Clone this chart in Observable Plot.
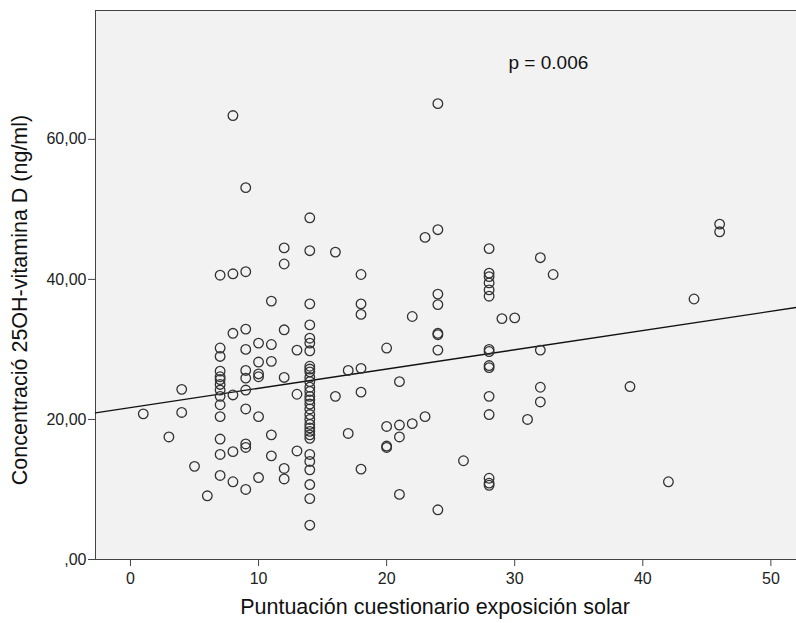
<!DOCTYPE html>
<html>
<head>
<meta charset="utf-8">
<script src="https://cdn.jsdelivr.net/npm/d3@7"></script>
<script src="https://cdn.jsdelivr.net/npm/@observablehq/plot@0.6"></script>
<style>
  html, body { margin: 0; padding: 0; background: #fff; }
  #chart svg { display: block; }
</style>
</head>
<body>
<div id="chart"></div>
<script>
// Puntuación (x) and concentration (y) grouped by score
const scores = [1, 3, 4, 5, 6, 7, 8, 9, 10, 11, 12, 13, 14, 16, 17, 18, 20, 21, 22, 23, 24, 26, 28, 29, 30, 31, 32, 33, 39, 42, 44, 46];
const concentrations = [
  [20.8],
  [17.5],
  [24.3, 21.0],
  [13.3],
  [9.1],
  [40.6, 30.2, 29.0, 26.9, 26.1, 25.7, 25.0, 24.2, 23.3, 22.1, 20.4, 17.2, 15.0, 12.0],
  [63.4, 40.8, 32.3, 23.5, 15.4, 11.1],
  [53.1, 41.1, 32.9, 30.0, 27.0, 25.9, 24.2, 21.5, 16.5, 16.0, 10.0],
  [30.9, 28.2, 26.5, 26.1, 20.4, 11.7],
  [36.9, 30.7, 28.3, 17.8, 14.8],
  [44.5, 42.2, 32.8, 26.0, 13.0, 11.5],
  [29.9, 23.6, 15.5],
  [48.8, 44.1, 36.5, 33.5, 31.6, 30.9, 29.8, 27.6, 27.2, 26.8, 26.0, 25.4, 24.6, 24.0, 23.3, 22.8, 22.2, 21.5, 20.7, 20.0, 19.3, 18.8, 18.3, 17.8, 17.3, 15.0, 14.0, 12.8, 10.7, 8.7, 4.9],
  [43.9, 23.3],
  [27.0, 18.0],
  [40.7, 36.5, 35.0, 27.3, 23.9, 12.9],
  [30.2, 19.0, 16.2, 16.0],
  [25.4, 19.2, 17.5, 9.3],
  [34.7, 19.4],
  [46.0, 20.4],
  [65.1, 47.1, 37.9, 36.4, 32.3, 32.1, 29.9, 7.1],
  [14.1],
  [44.4, 40.9, 40.4, 39.5, 38.5, 37.6, 30.0, 29.7, 27.7, 27.4, 23.3, 20.7, 11.6, 10.9, 10.6],
  [34.4],
  [34.5],
  [20.0],
  [43.1, 29.9, 24.6, 22.5],
  [40.7],
  [24.7],
  [11.1],
  [37.2],
  [47.9, 46.8]
];
// Fit line (ends at the plot edges)
const fitX = [-2.73, 52.0];
const fitY = [20.95, 36.0];
const xTicks = [0, 10, 20, 30, 40, 50];
const yTicks = [0, 20, 40, 60];
const xTitle = "Puntuación cuestionario exposición solar";
const yTitle = "Concentració 25OH-vitamina D (ng/ml)";
const pLabel = "p = 0.006";

const points = scores.flatMap((s, i) => concentrations[i].map(v => ({x: s, y: v})));
const fit = fitX.map((x, i) => ({x, y: fitY[i]}));

const font = "'Liberation Sans', Arial, Helvetica, sans-serif";

const chart = Plot.plot({
  width: 796,
  height: 623,
  marginLeft: 95,
  marginRight: 0,
  marginTop: 10,
  marginBottom: 64,
  style: {fontFamily: font, background: "#ffffff", color: "#222"},
  x: {domain: [-2.73, 52.0]},
  y: {domain: [0, 78.4]},
  marks: [
    Plot.frame({fill: "#f2f2f2", stroke: "#444", strokeWidth: 1}),
    Plot.line(fit, {x: "x", y: "y", stroke: "#111", strokeWidth: 1.3}),
    Plot.dot(points, {x: "x", y: "y", r: 4.8, stroke: "#333", strokeWidth: 1.3, fill: "none"}),
    Plot.axisX({ticks: xTicks, tickSize: 7, tickPadding: 6, fontSize: 16, label: null, stroke: "#444"}),
    Plot.axisY({ticks: yTicks, tickSize: 7, tickPadding: 2, fontSize: 16, label: null, stroke: "#444",
      tickFormat: d => d === 0 ? ",00" : d.toFixed(2).replace(".", ",")}),
    Plot.text([xTitle], {frameAnchor: "bottom", dx: -11, dy: 54, fontSize: 21.5, fill: "#111"}),
    Plot.text([yTitle], {frameAnchor: "left", dx: -75, dy: 15, rotate: -90, textAnchor: "middle", fontSize: 21.5, fill: "#111"}),
    Plot.text([pLabel], {frameAnchor: "top-left", dx: 413, dy: 45, fontSize: 19, fill: "#111"})
  ]
});
document.getElementById("chart").appendChild(chart);
</script>
</body>
</html>
